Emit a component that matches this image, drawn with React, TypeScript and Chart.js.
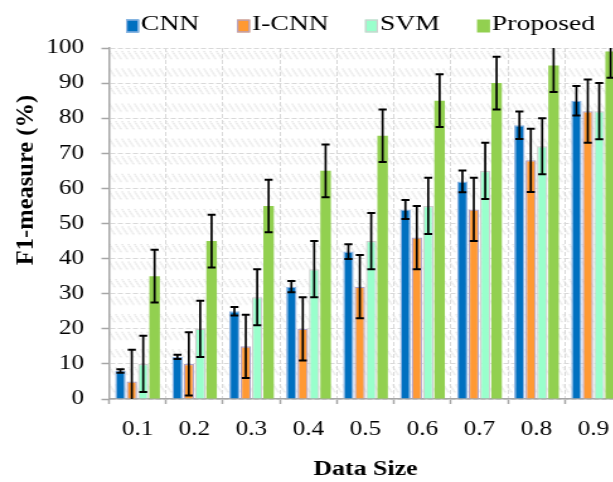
import React, { useEffect, useRef } from "react";
import { Chart, registerables } from "chart.js";

Chart.register(...registerables);

// ---------- data ----------
const categories = ["0.1", "0.2", "0.3", "0.4", "0.5", "0.6", "0.7", "0.8", "0.9"];
const seriesNames = ["CNN", "I-CNN", "SVM", "Proposed"];

const cnnValues = [8, 12, 25, 32, 42, 54, 62, 78, 85];
const cnnErrors = [0.5, 0.6, 1.2, 1.6, 2.1, 2.7, 3.1, 3.9, 4.2];

const icnnValues = [5, 10, 15, 20, 32, 46, 54, 68, 82];
const icnnErrors = [9, 9, 9, 9, 9, 9, 9, 9, 9];

const svmValues = [10, 20, 29, 37, 45, 55, 65, 72, 82];
const svmErrors = [8, 8, 8, 8, 8, 8, 8, 8, 8];

const proposedValues = [35, 45, 55, 65, 75, 85, 90, 95, 99];
const proposedErrors = [7.5, 7.5, 7.5, 7.5, 7.5, 7.5, 7.5, 7.5, 7.5];

const yMin = 0;
const yMax = 100;
const yStep = 10;

const xTitle = "Data Size";
const yTitle = "F1-measure (%)";

// ---------- styles / layout ----------
const S = 1.26; // horizontal stretch of the picture
const CW = 508;
const CH = 482;
const FONT = "'Liberation Serif', 'Times New Roman', serif";
const fills = ["#0070C0", "#FF9933", "#99FFCC", "#92D050"];
const borders = ["#8EB4E3", "#B3A2C7", "#D0D0D0", "#92D050"];
const legendBoxX = [126, 237, 365, 477]; // page pixels

const valueSeries = [cnnValues, icnnValues, svmValues, proposedValues];
const errorSeries = [cnnErrors, icnnErrors, svmErrors, proposedErrors];

const decorPlugin = {
  id: "decor",
  beforeDraw(chart: any) {
    const { ctx, chartArea: a } = chart;
    ctx.save();
    ctx.fillStyle = "#ffffff";
    ctx.fillRect(0, 0, chart.width, chart.height);
    const tile = document.createElement("canvas");
    tile.width = 5;
    tile.height = 18;
    const t = tile.getContext("2d")!;
    t.strokeStyle = "#cccccc";
    t.lineWidth = 1;
    t.setLineDash([1.5, 1]);
    t.beginPath();
    t.moveTo(0, 3);
    t.lineTo(5, 12);
    t.stroke();
    const pat: any = ctx.createPattern(tile, "repeat");
    const sy = (a.bottom - a.top) / 20 / 18;
    if (pat && pat.setTransform) pat.setTransform(new DOMMatrix([1, 0, 0, sy, a.left, a.top]));
    ctx.fillStyle = pat;
    ctx.fillRect(a.left, a.top, a.right - a.left, a.bottom - a.top);
    ctx.restore();
  },
  afterDatasetsDraw(chart: any) {
    const { ctx, chartArea: a } = chart;
    const yScale = chart.scales.y;
    ctx.save();
    ctx.beginPath();
    ctx.rect(a.left, a.top, a.right - a.left, a.bottom - a.top);
    ctx.clip();
    ctx.strokeStyle = "#000000";
    chart.data.datasets.forEach((ds: any, d: number) => {
      const meta = chart.getDatasetMeta(d);
      const errs = errorSeries[d];
      meta.data.forEach((el: any, i: number) => {
        const v = ds.data[i];
        const e = errs[i];
        const yt = yScale.getPixelForValue(v + e);
        const yb = yScale.getPixelForValue(v - e);
        const x = el.x;
        const cap = 3.2;
        ctx.lineWidth = 1.7;
        ctx.beginPath();
        ctx.moveTo(x, yt);
        ctx.lineTo(x, yb);
        ctx.stroke();
        ctx.lineWidth = 2;
        ctx.beginPath();
        ctx.moveTo(x - cap, yt);
        ctx.lineTo(x + cap, yt);
        ctx.moveTo(x - cap, yb);
        ctx.lineTo(x + cap, yb);
        ctx.stroke();
      });
    });
    ctx.restore();
  },
  afterDraw(chart: any) {
    const { ctx } = chart;
    // legend
    ctx.save();
    ctx.font = `22px ${FONT}`;
    ctx.textBaseline = "alphabetic";
    ctx.textAlign = "left";
    const boxW = 10.3;
    const boxH = 13;
    const boxY = 19.5;
    seriesNames.forEach((name, i) => {
      const x = legendBoxX[i] / S;
      ctx.fillStyle = fills[i];
      ctx.fillRect(x, boxY, boxW, boxH);
      if (borders[i] !== fills[i]) {
        ctx.strokeStyle = borders[i];
        ctx.lineWidth = 1.2;
        ctx.strokeRect(x + 0.6, boxY + 0.6, boxW - 1.2, boxH - 1.2);
      }
      ctx.fillStyle = "#000000";
      ctx.fillText(name, x + boxW + 1.5, 29.5);
    });
    ctx.restore();

    // y-axis title (drawn without the horizontal stretch)
    ctx.save();
    ctx.translate(27 / S, 180);
    ctx.scale(1 / S, 1);
    ctx.rotate(-Math.PI / 2);
    ctx.font = `bold 24.5px ${FONT}`;
    ctx.fillStyle = "#000000";
    ctx.textAlign = "center";
    ctx.textBaseline = "middle";
    ctx.fillText(yTitle, 0, 0);
    ctx.restore();
  },
};

export default function App() {
  const canvasRef = useRef<HTMLCanvasElement | null>(null);

  useEffect(() => {
    const canvas = canvasRef.current;
    if (!canvas) return;
    Chart.defaults.font.family = FONT;
    const chart = new Chart(canvas, {
      type: "bar",
      data: {
        labels: categories,
        datasets: seriesNames.map((name, i) => ({
          label: name,
          data: valueSeries[i],
          backgroundColor: fills[i],
          borderColor: borders[i],
          borderWidth: i === 3 ? 0 : 1.3,
          categoryPercentage: 0.8,
          barPercentage: 0.92,
        })),
      },
      options: {
        animation: false,
        responsive: false,
        maintainAspectRatio: false,
        layout: { padding: { top: 48, right: CW - 622 / S, bottom: 0, left: 0 } },
        plugins: {
          legend: { display: false },
          tooltip: { enabled: false },
          title: { display: false },
        },
        scales: {
          x: {
            type: "category",
            offset: true,
            grid: {
              offset: true,
              color: "#d9d9d9",
              lineWidth: 1,
              drawTicks: true,
              tickLength: 5,
              tickColor: "#a6a6a6",
              tickWidth: 1.5,
            },
            border: { color: "#a6a6a6", width: 1.5, dash: [4, 2] },
            ticks: {
              font: { size: 20, family: FONT },
              color: "#000000",
              padding: 14,
              maxRotation: 0,
              autoSkip: false,
            },
            title: {
              display: true,
              text: xTitle,
              font: { size: 20.5, weight: "bold", family: FONT },
              color: "#000000",
              padding: { top: 0, bottom: 0 },
            },
            afterFit: (s: any) => {
              s.height = CH - 399;
            },
          },
          y: {
            min: yMin,
            max: yMax,
            grid: {
              color: "#d9d9d9",
              lineWidth: 1,
              drawTicks: true,
              tickLength: 6,
              tickColor: "#a6a6a6",
              tickWidth: 1.5,
            },
            border: { color: "#a6a6a6", width: 1.5, dash: [4, 2] },
            ticks: {
              stepSize: yStep,
              font: { size: 20, family: FONT },
              color: "#000000",
              padding: 13.8,
            },
            title: { display: false },
            afterFit: (s: any) => {
              s.width = 109 / S;
            },
          },
        },
      },
      plugins: [decorPlugin],
    });
    return () => chart.destroy();
  }, []);

  return (
    <div
      style={{
        position: "fixed",
        left: 0,
        top: 0,
        width: 613,
        height: 482,
        overflow: "hidden",
        background: "#ffffff",
      }}
    >
      <div style={{ width: CW, height: CH, transform: `scaleX(${S})`, transformOrigin: "0 0" }}>
        <canvas
          ref={canvasRef}
          width={CW}
          height={CH}
          style={{ display: "block", width: CW, height: CH }}
        />
      </div>
    </div>
  );
}
